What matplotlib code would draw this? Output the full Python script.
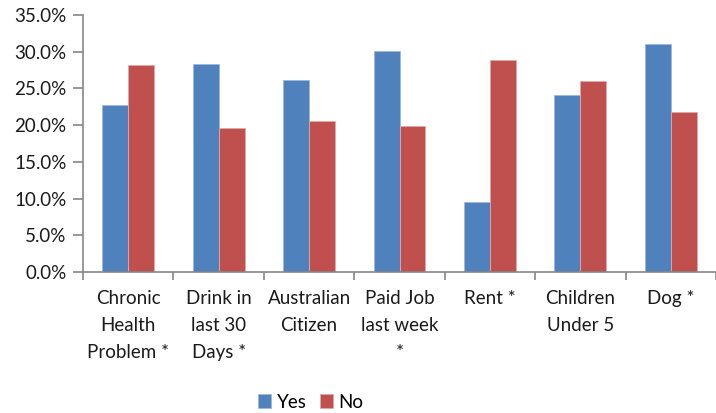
import matplotlib
matplotlib.use("Agg")
import matplotlib.pyplot as plt
import numpy as np
from matplotlib.ticker import FuncFormatter, FixedLocator

# data (percent)
categories = ["Chronic\nHealth\nProblem *", "Drink in\nlast 30\nDays *", "Australian\nCitizen",
              "Paid Job\nlast week\n*", "Rent *", "Children\nUnder 5", "Dog *"]
yes_vals = [22.7, 28.3, 26.1, 30.1, 9.6, 24.1, 31.0]
no_vals = [28.2, 19.6, 20.6, 19.9, 28.9, 26.0, 21.8]
series_names = ["Yes", "No"]

plt.rcParams['font.family'] = ['Lato', 'DejaVu Sans']

fig = plt.figure(figsize=(7.16, 4.13), dpi=100)
ax = fig.add_axes([83/716, 1 - 272/413, 1 - 83/716, (272 - 15)/413])

x = np.arange(len(categories))
w = 0.287
blue = "#4F81BD"
red = "#C0504D"
ax.bar(x - w/2, yes_vals, w, color=blue, edgecolor="#9DB9DE", linewidth=0.6, label=series_names[0])
ax.bar(x + w/2, no_vals, w, color=red, edgecolor="#E3A9A8", linewidth=0.6, label=series_names[1])

ax.set_xlim(-0.5, len(categories) - 0.5)
ax.set_ylim(0, 35)
ax.set_yticks(np.arange(0, 35.1, 5))
ax.yaxis.set_major_formatter(FuncFormatter(lambda v, p: f"{v:.1f}%"))

ax.set_xticks(x)
ax.set_xticklabels(categories, linespacing=1.72, va="top")
ax.xaxis.set_minor_locator(FixedLocator(np.arange(-0.5, len(categories), 1.0)))

gray = "#868686"
txt = "#1a1a1a"
for s in ["top", "right"]:
    ax.spines[s].set_visible(False)
for s in ["left", "bottom"]:
    ax.spines[s].set_color(gray)
    ax.spines[s].set_linewidth(1.2)
ax.tick_params(axis="y", length=7, width=1.2, color=gray, labelsize=13.5, pad=5, labelcolor=txt)
ax.tick_params(axis="x", which="major", length=0, labelsize=13.5, pad=13, labelcolor=txt)
ax.tick_params(axis="x", which="minor", length=6, width=1.2, color=gray)

fig.legend(loc="center", bbox_to_anchor=(311/716, 1 - 402/413), ncol=2, frameon=False,
           fontsize=13.5, handlelength=0.7, handleheight=0.7, handletextpad=0.3, columnspacing=0.7)

fig.savefig("out.png", dpi=100)
